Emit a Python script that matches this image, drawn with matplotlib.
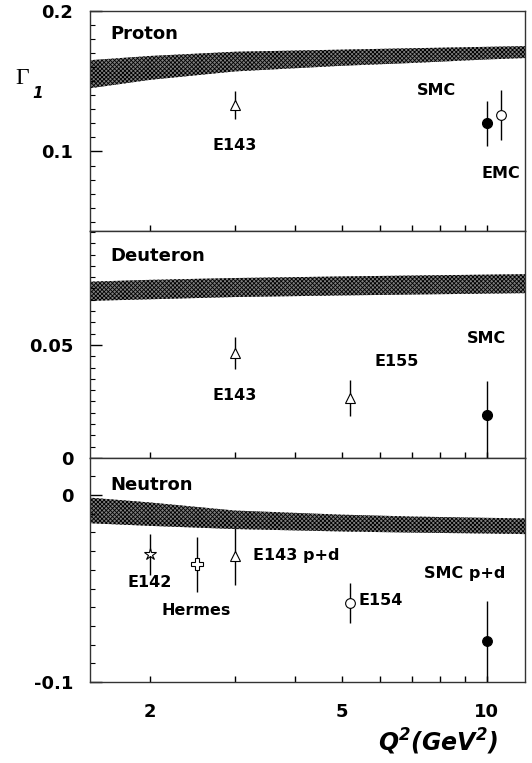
import matplotlib
matplotlib.use('Agg')
import matplotlib.pyplot as plt
from matplotlib.ticker import FixedLocator, FixedFormatter, MultipleLocator
import numpy as np

plt.rcParams['font.family'] = ['DejaVu Sans']
plt.rcParams['mathtext.fontset'] = 'custom'
plt.rcParams['mathtext.bf'] = 'DejaVu Sans:bold:italic'
plt.rcParams['hatch.linewidth'] = 0.6

# theory bands (Q2 grid, lower / upper edge)
band_q2 = [1.5, 2, 3, 5, 7, 10, 12]
p_lo = [0.145, 0.151, 0.157, 0.161, 0.163, 0.1655, 0.1665]
p_hi = [0.165, 0.168, 0.171, 0.1725, 0.1735, 0.1745, 0.175]
d_lo = [0.0695, 0.0702, 0.0712, 0.0719, 0.0723, 0.0727, 0.0729]
d_hi = [0.0780, 0.0788, 0.0796, 0.0803, 0.0807, 0.0811, 0.0813]
n_lo = [-0.0151, -0.0165, -0.0182, -0.0195, -0.0201, -0.0206, -0.0209]
n_hi = [-0.0014, -0.0040, -0.0083, -0.0105, -0.0115, -0.0122, -0.0125]

# proton data: E143, SMC, EMC
p_q2 = [3.0, 10.0, 10.7]
p_g1 = [0.133, 0.120, 0.126]
p_err = [0.010, 0.016, 0.018]

# deuteron data: E143, E155, SMC
d_q2 = [3.0, 5.2, 10.0]
d_g1 = [0.0463, 0.0264, 0.019]
d_err_lo = [0.007, 0.008, 0.021]
d_err_hi = [0.007, 0.008, 0.015]

# neutron data: E142, Hermes, E143 p+d, E154, SMC p+d
n_q2 = [2.0, 2.5, 3.0, 5.2, 10.0]
n_g1 = [-0.0316, -0.0371, -0.0326, -0.0579, -0.0779]
n_err_lo = [0.011, 0.0145, 0.0155, 0.0107, 0.025]
n_err_hi = [0.011, 0.0145, 0.0148, 0.0107, 0.021]

W, H = 532, 763
fig = plt.figure(figsize=(W / 100, H / 100), dpi=100)


def px(x, y):
    return x / W, 1 - y / H


def make_axes(top, bot):
    ax = fig.add_axes([90 / W, 1 - bot / H, 435 / W, (bot - top) / H])
    ax.set_xscale('log')
    ax.set_xlim(1.5, 12)
    ax.xaxis.set_major_locator(FixedLocator([2, 3, 4, 5, 6, 7, 8, 9, 10]))
    ax.xaxis.set_major_formatter(FixedFormatter(['2', '', '', '5', '', '', '', '', '10']))
    ax.xaxis.set_minor_locator(FixedLocator([]))
    ax.tick_params(axis='x', which='major', direction='in', length=4.5, width=1,
                   top=False, labelsize=13, pad=15)
    ax.tick_params(axis='y', which='major', direction='in', length=8.5, width=1,
                   right=False, labelsize=13, pad=12)
    ax.tick_params(axis='y', which='minor', direction='in', length=3.5, width=0.8, right=False)
    for s in ax.spines.values():
        s.set_linewidth(1.0)
        s.set_color('#333333')
    return ax


def bold_ticks(ax):
    for lab in ax.get_xticklabels() + ax.get_yticklabels():
        lab.set_fontweight('bold')


def band(ax, lo, hi):
    ax.fill_between(band_q2, lo, hi, facecolor='#808080', edgecolor='black',
                    hatch='xxxxxxxx', linewidth=0, zorder=1)


lbl = dict(fontsize=11.5, fontweight='bold', ha='center', va='center')
ebkw = dict(color='black', elinewidth=1, capsize=0, linestyle='none', zorder=3)

# ---- proton
ax1 = make_axes(11, 231)
ax1.set_ylim(0.0434, 0.2)
ax1.yaxis.set_major_locator(FixedLocator([0.1, 0.2]))
ax1.yaxis.set_major_formatter(FixedFormatter(['0.1', '0.2']))
ax1.yaxis.set_minor_locator(MultipleLocator(0.01))
ax1.tick_params(axis='x', labelbottom=False)
band(ax1, p_lo, p_hi)
ax1.errorbar(p_q2[0], p_g1[0], yerr=p_err[0], marker='^', ms=7, mfc='white', mec='black', mew=0.8, **ebkw)
ax1.errorbar(p_q2[1], p_g1[1], yerr=p_err[1], marker='o', ms=7, mfc='black', mec='black', **ebkw)
ax1.errorbar(p_q2[2], p_g1[2], yerr=p_err[2], marker='o', ms=7, mfc='white', mec='black', mew=0.8, **ebkw)
ax1.text(0.046, 0.895, 'Proton', transform=ax1.transAxes, fontsize=13, fontweight='bold', va='center')
ax1.text(3.0, 0.104, 'E143', **lbl)
ax1.text(7.87, 0.1433, 'SMC', **lbl)
ax1.text(10.7, 0.084, 'EMC', **lbl)
bold_ticks(ax1)

# ---- deuteron
ax2 = make_axes(231, 458)
ax2.set_ylim(0, 0.1004)
ax2.yaxis.set_major_locator(FixedLocator([0, 0.05]))
ax2.yaxis.set_major_formatter(FixedFormatter(['0', '0.05']))
ax2.yaxis.set_minor_locator(MultipleLocator(0.005))
ax2.tick_params(axis='x', labelbottom=False)
band(ax2, d_lo, d_hi)
ax2.errorbar(d_q2[0], d_g1[0], yerr=[[d_err_lo[0]], [d_err_hi[0]]], marker='^', ms=7, mfc='white', mec='black', mew=0.8, **ebkw)
ax2.errorbar(d_q2[1], d_g1[1], yerr=[[d_err_lo[1]], [d_err_hi[1]]], marker='^', ms=7, mfc='white', mec='black', mew=0.8, **ebkw)
ax2.errorbar(d_q2[2], d_g1[2], yerr=[[d_err_lo[2]], [d_err_hi[2]]], marker='o', ms=7, mfc='black', mec='black', **ebkw)
ax2.text(0.046, 0.89, 'Deuteron', transform=ax2.transAxes, fontsize=13, fontweight='bold', va='center')
ax2.text(3.0, 0.0276, 'E143', **lbl)
ax2.text(6.5, 0.0426, 'E155', **lbl)
ax2.text(10.0, 0.053, 'SMC', **lbl)
bold_ticks(ax2)

# ---- neutron
ax3 = make_axes(458, 682)
ax3.set_ylim(-0.1, 0.0198)
ax3.yaxis.set_major_locator(FixedLocator([-0.1, 0]))
ax3.yaxis.set_major_formatter(FixedFormatter(['-0.1', '0']))
ax3.yaxis.set_minor_locator(MultipleLocator(0.01))
band(ax3, n_lo, n_hi)
n_mk = ['*', 'P', '^', 'o', 'o']
n_fc = ['white', 'white', 'white', 'white', 'black']
n_ms = [9, 8, 7, 7, 7]
for q, g, el, eh, m, fc, ms in zip(n_q2, n_g1, n_err_lo, n_err_hi, n_mk, n_fc, n_ms):
    ax3.errorbar(q, g, yerr=[[el], [eh]], marker=m, ms=ms, mfc=fc, mec='black', mew=0.8, **ebkw)
ax3.text(0.046, 0.879, 'Neutron', transform=ax3.transAxes, fontsize=13, fontweight='bold', va='center')
ax3.text(2.0, -0.0469, 'E142', **lbl)
ax3.text(2.49, -0.062, 'Hermes', **lbl)
ax3.text(3.27, -0.0326, 'E143 p+d', fontsize=11.5, fontweight='bold', ha='left', va='center')
ax3.text(5.42, -0.0565, 'E154', fontsize=11.5, fontweight='bold', ha='left', va='center')
ax3.text(8.98, -0.0422, 'SMC p+d', **lbl)
bold_ticks(ax3)

# axis titles
fig.text(*px(15, 79), '\u0393', family=['Liberation Serif', 'DejaVu Serif'], fontsize=17, ha='left', va='center')
fig.text(*px(32, 93), '1', fontsize=11, fontweight='bold', style='italic', ha='left', va='center')
fig.text(*px(498, 742), r'$\mathbf{Q^2(GeV^2)}$', fontsize=17, ha='right', va='center')

fig.savefig('out.png', dpi=100)
